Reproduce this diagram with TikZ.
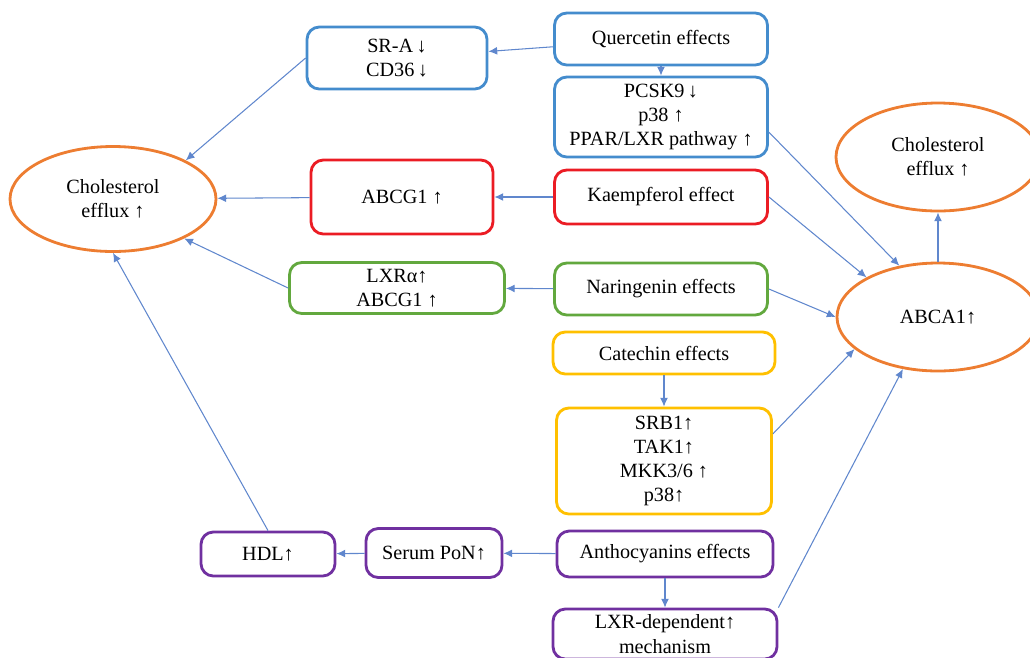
\documentclass[tikz,border=0pt]{standalone}
\usepackage{fontspec}
\setmainfont{Liberation Serif}
\usetikzlibrary{shapes.geometric,arrows.meta}

\definecolor{qblue}{RGB}{68,140,205}
\definecolor{kred}{RGB}{235,28,36}
\definecolor{ngreen}{RGB}{98,168,62}
\definecolor{cyellow}{RGB}{255,192,0}
\definecolor{apurple}{RGB}{112,48,160}
\definecolor{eorange}{RGB}{237,125,49}
\definecolor{linkblue}{RGB}{68,114,196}

\begin{document}
\begin{tikzpicture}[x=0.02cm,y=-0.02cm,
    txt/.style={font=\rmfamily\fontsize{11.5}{13.8}\selectfont, align=center, inner sep=0pt},
    sz/.style 2 args={minimum width=#1*0.02cm, minimum height=#2*0.02cm},
    box/.style={txt, draw=#1, line width=1.6pt, rounded corners=7pt, rectangle},
    effl/.style={txt, draw=eorange, line width=1.6pt, ellipse},
    link/.style={draw=linkblue!85, line width=0.6pt, -{Latex[length=5pt,width=4.5pt]}}]
			\useasboundingbox (0,0) rectangle (1030,657);
			
			% Quercetin
			\node[box=qblue, sz={213}{52}] (quer) at (661,39) {Quercetin effects};
			\node[box=qblue, sz={180}{62}] (sra) at (397,58) {SR-A\,↓\\CD36\,↓};
			\node[box=qblue, sz={213}{80}] (pcsk) at (661,117) {PCSK9\,↓\\p38 ↑\\PPAR/LXR pathway ↑};
			
			% Kaempferol
			\node[box=kred, sz={182}{74}] (abcg) at (402,197) {ABCG1 ↑};
			\node[box=kred, sz={213}{54}] (kaem) at (661,197) {Kaempferol effect};
			
			% Naringenin
			\node[box=ngreen, sz={215}{51}] (lxra) at (397,288) {LXRα↑\\ABCG1 ↑};
			\node[box=ngreen, sz={213}{52}] (nar) at (661,289) {Naringenin effects};
			
			% Catechin
			\node[box=cyellow, sz={222}{42}] (cat) at (664,353) {Catechin effects};
			\node[box=cyellow, sz={215}{106}] (srb) at (664,461) {SRB1↑\\TAK1↑\\MKK3/6 ↑\\p38↑};
			
			% Anthocyanins
			\node[box=apurple, sz={216}{46}] (anth) at (665,554) {Anthocyanins effects};
			\node[box=apurple, sz={224}{50}] (lxrd) at (665,634) {LXR-dependent↑\\mechanism};
			\node[box=apurple, sz={136}{49}] (pon) at (434,553) {Serum PoN↑};
			\node[box=apurple, sz={134}{44}] (hdl) at (268,554) {HDL↑};
			
			% Cholesterol efflux and ABCA1
			\node[effl, sz={206}{105}] (ceff) at (113,199) {Cholesterol\\efflux ↑};
			\node[effl, sz={204}{108}] (reff) at (938,157) {Cholesterol\\efflux ↑};
			\node[effl, sz={202}{108}] (abca) at (938,317) {ABCA1↑};
			
			% Arrows
			\draw[link] (quer) -- (sra);
			\draw[link] (quer) -- (pcsk);
			\draw[link] (sra.west) -- (ceff.28);
			\draw[link] (abcg) -- (ceff);
			\draw[link] (kaem) -- (abcg);
			\draw[link] (lxra.west) -- (ceff.-29);
			\draw[link] (nar) -- (lxra);
			\draw[link] (cat) -- (srb);
			\draw[link] (anth) -- (pon);
			\draw[link] (pon) -- (hdl);
			\draw[link] (anth) -- (lxrd);
			\draw[link] (hdl.north) -- (ceff.south);
			\draw[link] (pcsk.-8) -- (abca.127);
			\draw[link] (kaem.east) -- (abca.151);
			\draw[link] (nar.east) -- (abca.west);
			\draw[link] (srb.14) -- (abca.201);
			\draw[link] (lxrd.north east) -- (abca.236);
			\draw[link] (abca) -- (reff);
		\end{tikzpicture}
\end{document}
